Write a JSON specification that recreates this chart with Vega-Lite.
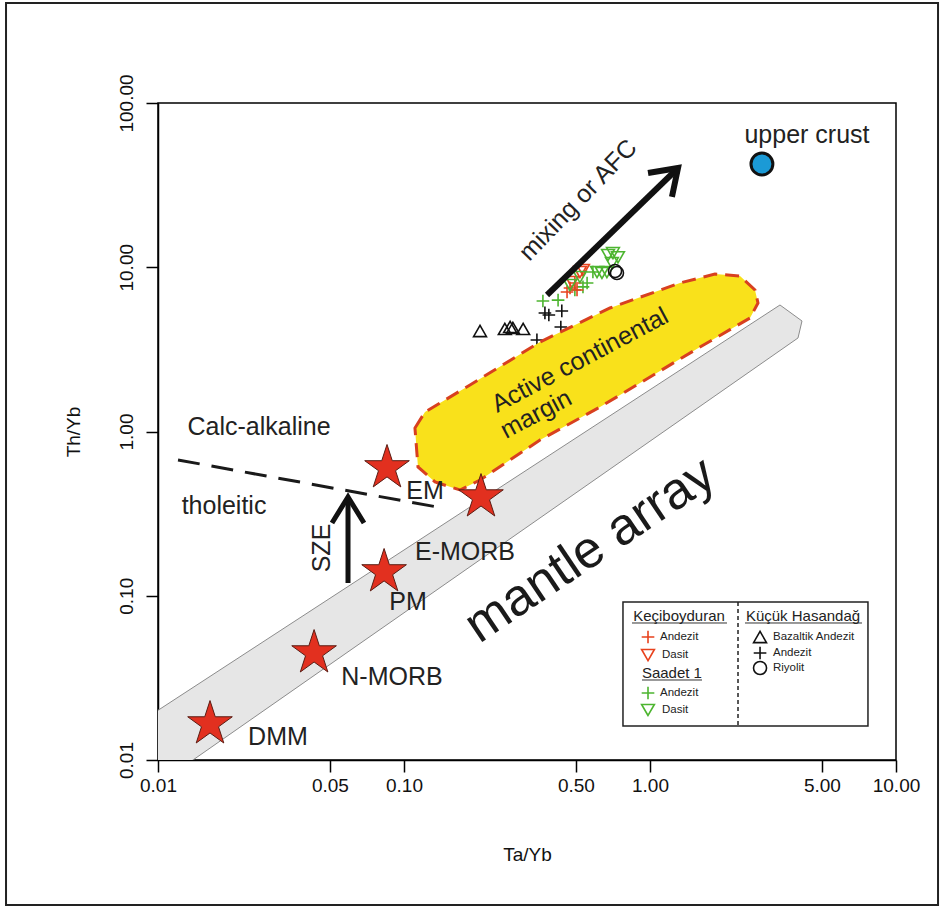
{
  "$schema": "https://vega.github.io/schema/vega-lite/v6.json",
  "width": 738,
  "height": 657,
  "autosize": {"type": "none"},
  "padding": {"left": 158, "top": 103, "right": 48, "bottom": 148},
  "background": "white",
  "config": {"view": {"stroke": "black", "strokeWidth": 1.5}, "font": "Liberation Sans"},
  "encoding": {
    "x": {
      "field": "x", "type": "quantitative",
      "scale": {"type": "log", "domain": [0.01, 10]},
      "axis": {
        "values": [0.01, 0.05, 0.1, 0.5, 1, 5, 10], "format": ".2f", "grid": false,
        "tickSize": 12, "tickColor": "black", "tickWidth": 1.5, "domainColor": "black", "domainWidth": 1.5,
        "labelFontSize": 19, "labelColor": "#111", "labelPadding": 4, "labelFlush": false, "labelOverlap": false,
        "title": "Ta/Yb", "titleFontSize": 19, "titleFontWeight": "normal", "titleColor": "#111", "titlePadding": 50
      }
    },
    "y": {
      "field": "y", "type": "quantitative",
      "scale": {"type": "log", "domain": [0.01, 100]},
      "axis": {
        "values": [0.01, 0.1, 1, 10, 100], "format": ".2f", "grid": false,
        "tickSize": 12, "tickColor": "black", "tickWidth": 1.5, "domainColor": "black", "domainWidth": 1.5,
        "labelFontSize": 19, "labelColor": "#111", "labelAngle": 270, "labelAlign": "center", "labelBaseline": "bottom",
        "labelPadding": 10, "labelFlush": false, "labelOverlap": false,
        "title": "Th/Yb", "titleFontSize": 19, "titleFontWeight": "normal", "titleColor": "#111", "titlePadding": 34
      }
    }
  },
  "layer": [
    {
      "data": {"values": [{"x": 0.002411, "x2": 14.82, "y": 406.2, "y2": 0.00131}]},
      "mark": {"type": "rect", "filled": false, "stroke": "#222", "strokeWidth": 2},
      "encoding": {"x2": {"field": "x2"}, "y2": {"field": "y2"}}
    },
    {
      "data": {"values": [
        {"o": 1, "x": 0.00701, "y": 0.01419},
        {"o": 2, "x": 3.376, "y": 5.891},
        {"o": 3, "x": 4.148, "y": 4.708},
        {"o": 4, "x": 3.996, "y": 3.71},
        {"o": 5, "x": 0.00928, "y": 0.00657}
      ]},
      "mark": {"type": "line", "interpolate": "linear-closed", "fill": "#e6e6e6", "stroke": "#8c8c8c", "strokeWidth": 1, "clip": true},
      "encoding": {"order": {"field": "o", "type": "quantitative"}}
    },
    {
      "data": {"values": [
        {"locality": "Küçük Hasandağ", "rock": "Bazaltik Andezit", "x": 0.2037, "y": 4.09},
        {"locality": "Küçük Hasandağ", "rock": "Bazaltik Andezit", "x": 0.257, "y": 4.21},
        {"locality": "Küçük Hasandağ", "rock": "Bazaltik Andezit", "x": 0.27, "y": 4.33},
        {"locality": "Küçük Hasandağ", "rock": "Bazaltik Andezit", "x": 0.277, "y": 4.27},
        {"locality": "Küçük Hasandağ", "rock": "Bazaltik Andezit", "x": 0.305, "y": 4.21},
        {"locality": "Küçük Hasandağ", "rock": "Andezit", "x": 0.374, "y": 5.27},
        {"locality": "Küçük Hasandağ", "rock": "Andezit", "x": 0.388, "y": 5.12},
        {"locality": "Küçük Hasandağ", "rock": "Andezit", "x": 0.438, "y": 5.42},
        {"locality": "Küçük Hasandağ", "rock": "Andezit", "x": 0.434, "y": 4.33},
        {"locality": "Küçük Hasandağ", "rock": "Andezit", "x": 0.347, "y": 3.61},
        {"locality": "Saadet 1", "rock": "Andezit", "x": 0.367, "y": 6.23},
        {"locality": "Saadet 1", "rock": "Andezit", "x": 0.423, "y": 6.31},
        {"locality": "Saadet 1", "rock": "Andezit", "x": 0.534, "y": 7.59},
        {"locality": "Saadet 1", "rock": "Andezit", "x": 0.555, "y": 8.02},
        {"locality": "Saadet 1", "rock": "Andezit", "x": 0.586, "y": 9.35},
        {"locality": "Saadet 1", "rock": "Andezit", "x": 0.495, "y": 7.27},
        {"locality": "Keçiboyduran", "rock": "Andezit", "x": 0.46, "y": 7.07},
        {"locality": "Keçiboyduran", "rock": "Andezit", "x": 0.473, "y": 7.48},
        {"locality": "Keçiboyduran", "rock": "Andezit", "x": 0.495, "y": 8.02},
        {"locality": "Keçiboyduran", "rock": "Andezit", "x": 0.505, "y": 7.27},
        {"locality": "Keçiboyduran", "rock": "Dasit", "x": 0.482, "y": 8.13},
        {"locality": "Keçiboyduran", "rock": "Dasit", "x": 0.519, "y": 9.35},
        {"locality": "Keçiboyduran", "rock": "Dasit", "x": 0.534, "y": 9.62},
        {"locality": "Saadet 1", "rock": "Dasit", "x": 0.473, "y": 7.8},
        {"locality": "Saadet 1", "rock": "Dasit", "x": 0.519, "y": 8.72},
        {"locality": "Saadet 1", "rock": "Dasit", "x": 0.609, "y": 9.35},
        {"locality": "Saadet 1", "rock": "Dasit", "x": 0.638, "y": 9.23},
        {"locality": "Saadet 1", "rock": "Dasit", "x": 0.668, "y": 9.35},
        {"locality": "Saadet 1", "rock": "Dasit", "x": 0.675, "y": 11.87},
        {"locality": "Saadet 1", "rock": "Dasit", "x": 0.707, "y": 12.2},
        {"locality": "Saadet 1", "rock": "Dasit", "x": 0.741, "y": 11.5},
        {"locality": "Saadet 1", "rock": "Dasit", "x": 0.7, "y": 10.6},
        {"locality": "Küçük Hasandağ", "rock": "Riyolit", "x": 0.734, "y": 9.23},
        {"locality": "Küçük Hasandağ", "rock": "Riyolit", "x": 0.721, "y": 9.49}
      ]},
      "mark": {"type": "point", "filled": false, "strokeWidth": 1.6, "opacity": 1},
      "encoding": {
        "color": {"field": "locality", "type": "nominal", "scale": {"domain": ["Keçiboyduran", "Saadet 1", "Küçük Hasandağ"], "range": ["#e8421d", "#4db530", "#111111"]}, "legend": null},
        "shape": {"field": "rock", "type": "nominal", "scale": {"domain": ["Andezit", "Dasit", "Bazaltik Andezit", "Riyolit"], "range": ["M-1,0H1M0,-1V1", "triangle-down", "triangle-up", "circle"]}, "legend": null},
        "size": {"field": "rock", "type": "ordinal", "scale": {"domain": ["Andezit", "Dasit", "Bazaltik Andezit", "Riyolit"], "range": [160, 170, 170, 45]}, "legend": null}
      }
    },
    {
      "data": {"values": [
        {"o": 1, "x": 0.1108, "y": 1.05},
        {"o": 2, "x": 0.1217, "y": 1.314},
        {"o": 3, "x": 0.1855, "y": 1.919},
        {"o": 4, "x": 0.3571, "y": 3.506},
        {"o": 5, "x": 0.6877, "y": 5.648},
        {"o": 6, "x": 1.324, "y": 8.021},
        {"o": 7, "x": 1.837, "y": 9.096},
        {"o": 8, "x": 2.322, "y": 8.846},
        {"o": 9, "x": 2.672, "y": 7.269},
        {"o": 10, "x": 2.748, "y": 6.058},
        {"o": 11, "x": 2.55, "y": 4.909},
        {"o": 12, "x": 1.597, "y": 3.269},
        {"o": 13, "x": 0.6262, "y": 1.41},
        {"o": 14, "x": 0.3571, "y": 0.8876},
        {"o": 15, "x": 0.2037, "y": 0.5067},
        {"o": 16, "x": 0.1689, "y": 0.4404},
        {"o": 17, "x": 0.1337, "y": 0.4927},
        {"o": 18, "x": 0.114, "y": 0.6081}
      ]},
      "mark": {"type": "line", "interpolate": "linear-closed", "fill": "#f9e11b", "stroke": "#d8401f", "strokeWidth": 3, "strokeDash": [14, 8]},
      "encoding": {"order": {"field": "o", "type": "quantitative"}}
    },
    {
      "data": {"values": [{"o": 1, "x": 0.01206, "y": 0.671}, {"o": 2, "x": 0.144, "y": 0.342}]},
      "mark": {"type": "line", "stroke": "#1a1a1a", "strokeWidth": 3, "strokeDash": [22, 12]},
      "encoding": {"order": {"field": "o", "type": "quantitative"}}
    },
    {
      "data": {"values": [
        {"member": "DMM", "x": 0.01627, "y": 0.01656},
        {"member": "N-MORB", "x": 0.0431, "y": 0.0448},
        {"member": "PM", "x": 0.083, "y": 0.1396},
        {"member": "EM", "x": 0.0853, "y": 0.6},
        {"member": "E-MORB", "x": 0.2056, "y": 0.399}
      ]},
      "mark": {"type": "point", "shape": "M0,-1L0.2245,-0.309L0.9511,-0.309L0.3633,0.118L0.5878,0.809L0,0.382L-0.5878,0.809L-0.3633,0.118L-0.9511,-0.309L-0.2245,-0.309Z", "filled": true, "fill": "#e2301f", "stroke": "#5a1d14", "strokeWidth": 1, "size": 2200, "opacity": 1}
    },
    {
      "data": {"values": [{"member": "upper crust", "x": 2.851, "y": 42.53}]},
      "mark": {"type": "point", "shape": "circle", "filled": true, "fill": "#1b9ad6", "stroke": "#111", "strokeWidth": 3, "size": 480, "opacity": 1}
    },
    {
      "data": {"values": [
        {"part": "shaft", "o": 1, "x": 0.05921, "y": 0.1196},
        {"part": "shaft", "o": 2, "x": 0.05921, "y": 0.39},
        {"part": "head", "o": 1, "x": 0.05096, "y": 0.2773},
        {"part": "head", "o": 2, "x": 0.05921, "y": 0.3993},
        {"part": "head", "o": 3, "x": 0.06877, "y": 0.2773}
      ]},
      "mark": {"type": "line", "stroke": "#111", "strokeWidth": 5, "strokeJoin": "miter"},
      "encoding": {"detail": {"field": "part", "type": "nominal"}, "order": {"field": "o", "type": "quantitative"}}
    },
    {
      "data": {"values": [
        {"part": "shaft", "o": 1, "x": 0.3814, "y": 6.776},
        {"part": "shaft", "o": 2, "x": 1.285, "y": 39.5},
        {"part": "head", "o": 1, "x": 0.9815, "y": 37.48},
        {"part": "head", "o": 2, "x": 1.3, "y": 40.2},
        {"part": "head", "o": 3, "x": 1.228, "y": 26.78}
      ]},
      "mark": {"type": "line", "stroke": "#111", "strokeWidth": 6, "strokeJoin": "miter"},
      "encoding": {"detail": {"field": "part", "type": "nominal"}, "order": {"field": "o", "type": "quantitative"}}
    },
    {
      "data": {"values": [
        {"label": "DMM", "x": 0.03074, "y": 0.0138},
        {"label": "N-MORB", "x": 0.08938, "y": 0.03201},
        {"label": "PM", "x": 0.1038, "y": 0.09162},
        {"label": "EM", "x": 0.1217, "y": 0.4343},
        {"label": "E-MORB", "x": 0.177, "y": 0.1846},
        {"label": "Calc-alkaline", "x": 0.02574, "y": 1.065},
        {"label": "tholeitic", "x": 0.01855, "y": 0.3519},
        {"label": "upper crust", "x": 4.345, "y": 63.8}
      ]},
      "mark": {"type": "text", "fontSize": 25, "color": "#222", "align": "center", "baseline": "middle"},
      "encoding": {"text": {"field": "label", "type": "nominal"}}
    },
    {
      "data": {"values": [{"label": "SZE", "x": 0.04642, "y": 0.1953}]},
      "mark": {"type": "text", "fontSize": 25, "color": "#222", "align": "center", "baseline": "middle", "angle": 270},
      "encoding": {"text": {"field": "label", "type": "nominal"}}
    },
    {
      "data": {"values": [{"label": "mixing or AFC", "x": 0.5096, "y": 25.67}]},
      "mark": {"type": "text", "fontSize": 25, "color": "#222", "align": "center", "baseline": "middle", "angle": 314},
      "encoding": {"text": {"field": "label", "type": "nominal"}}
    },
    {
      "data": {"values": [
        {"label": "Active continental", "x": 0.5193, "y": 2.725},
        {"label": "margin", "x": 0.3441, "y": 1.278}
      ]},
      "mark": {"type": "text", "fontSize": 25, "color": "#222", "align": "center", "baseline": "middle", "angle": 332},
      "encoding": {"text": {"field": "label", "type": "nominal"}}
    },
    {
      "data": {"values": [{"label": "mantle array", "x": 0.5703, "y": 0.1899}]},
      "mark": {"type": "text", "fontSize": 52, "color": "#1a1a1a", "align": "center", "baseline": "middle", "angle": 326},
      "encoding": {"text": {"field": "label", "type": "nominal"}}
    },
    {
      "data": {"values": [{"x": 0.7765, "x2": 7.692, "y": 0.09161, "y2": 0.01611}]},
      "mark": {"type": "rect", "fill": "white", "stroke": "#222", "strokeWidth": 1.5},
      "encoding": {"x2": {"field": "x2"}, "y2": {"field": "y2"}}
    },
    {
      "data": {"values": [{"x": 2.279, "y": 0.09161, "y2": 0.01611}]},
      "mark": {"type": "rule", "stroke": "#222", "strokeWidth": 1.5, "strokeDash": [4, 3]},
      "encoding": {"y2": {"field": "y2"}}
    },
    {
      "data": {"values": [
        {"x": 0.8449, "x2": 2.056, "y": 0.06825},
        {"x": 2.433, "x2": 7.274, "y": 0.06825},
        {"x": 0.9279, "x2": 1.627, "y": 0.0307}
      ]},
      "mark": {"type": "rule", "stroke": "#333", "strokeWidth": 1},
      "encoding": {"x2": {"field": "x2"}}
    },
    {
      "data": {"values": [
        {"label": "Keçiboyduran", "x": 1.312, "y": 0.07527},
        {"label": "Küçük Hasandağ", "x": 4.188, "y": 0.07527},
        {"label": "Saadet 1", "x": 1.228, "y": 0.03386}
      ]},
      "mark": {"type": "text", "fontSize": 15, "color": "#222", "align": "center", "baseline": "middle"},
      "encoding": {"text": {"field": "label", "type": "nominal"}}
    },
    {
      "data": {"values": [
        {"locality": "Keçiboyduran", "rock": "Andezit", "x": 0.9815, "y": 0.05609},
        {"locality": "Keçiboyduran", "rock": "Dasit", "x": 0.9815, "y": 0.04358},
        {"locality": "Saadet 1", "rock": "Andezit", "x": 0.9815, "y": 0.02557},
        {"locality": "Saadet 1", "rock": "Dasit", "x": 0.9815, "y": 0.02016},
        {"locality": "Küçük Hasandağ", "rock": "Bazaltik Andezit", "x": 2.801, "y": 0.05609},
        {"locality": "Küçük Hasandağ", "rock": "Andezit", "x": 2.801, "y": 0.04481},
        {"locality": "Küçük Hasandağ", "rock": "Riyolit", "x": 2.801, "y": 0.03632}
      ]},
      "mark": {"type": "point", "filled": false, "strokeWidth": 1.6, "opacity": 1},
      "encoding": {
        "color": {"field": "locality", "type": "nominal", "legend": null},
        "shape": {"field": "rock", "type": "nominal", "legend": null},
        "size": {"field": "rock", "type": "ordinal", "legend": null}
      }
    },
    {
      "data": {"values": [
        {"label": "Andezit", "x": 1.098, "y": 0.05609},
        {"label": "Dasit", "x": 1.119, "y": 0.04358},
        {"label": "Andezit", "x": 1.098, "y": 0.02557},
        {"label": "Dasit", "x": 1.119, "y": 0.02016},
        {"label": "Bazaltik Andezit", "x": 3.162, "y": 0.05609},
        {"label": "Andezit", "x": 3.162, "y": 0.04481},
        {"label": "Riyolit", "x": 3.162, "y": 0.03632}
      ]},
      "mark": {"type": "text", "fontSize": 11.5, "color": "#222", "align": "left", "baseline": "middle"},
      "encoding": {"text": {"field": "label", "type": "nominal"}}
    }
  ]
}
